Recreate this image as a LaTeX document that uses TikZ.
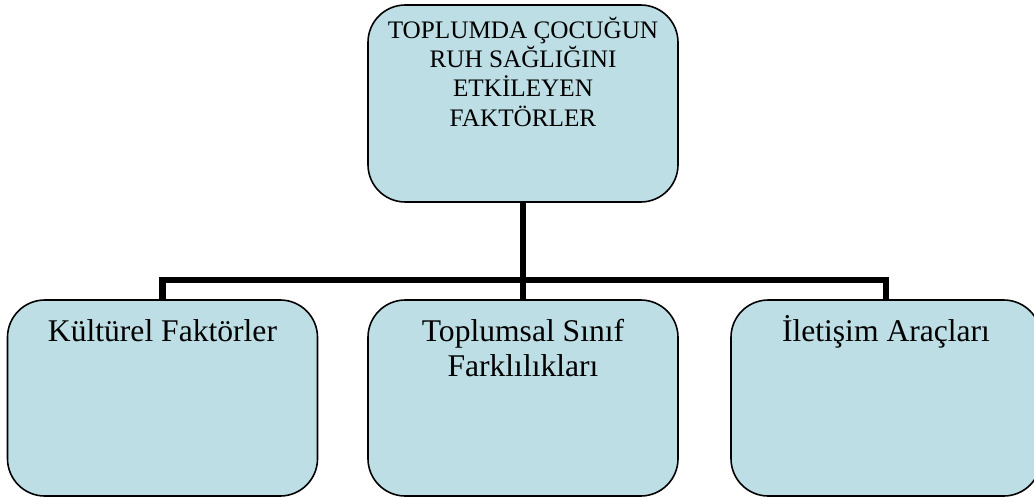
\documentclass[tikz,border=0pt]{standalone}
\usepackage{fontspec}
\setmainfont{Liberation Serif}
\definecolor{boxfill}{RGB}{188,222,228}
\newcommand{\boxtxt}[4]{\begin{minipage}[c][#1][t]{#2}\centering\rule{0pt}{#3}#4\end{minipage}}
\tikzset{
  orgbox/.style={draw=black, line width=1.2pt, fill=boxfill, rounded corners=28pt, inner sep=0pt, minimum width=232.5pt},
  conn/.style={draw=black, line width=4.6pt, line join=miter}
}
\begin{document}
\begin{tikzpicture}[x=0.75pt, y=-0.75pt]
\useasboundingbox (0,0) rectangle (1034,496);
\clip (0,0) rectangle (1034,496);
\node[orgbox, minimum height=147.75pt] (top) at (523,103.5)
  {\boxtxt{147.75pt}{232.5pt}{24.75pt}{\fontsize{18.9pt}{22.1pt}\selectfont TOPLUMDA ÇOCUĞUN\\ RUH SAĞLIĞINI\\ ETKİLEYEN\\ FAKTÖRLER}};
\node[orgbox, minimum height=147pt] (left) at (162.5,398)
  {\boxtxt{147pt}{232.5pt}{31pt}{\fontsize{23.7pt}{26.5pt}\selectfont Kültürel Faktörler}};
\node[orgbox, minimum height=147pt] (mid) at (523,398)
  {\boxtxt{147pt}{232.5pt}{31pt}{\fontsize{23.7pt}{26.5pt}\selectfont Toplumsal Sınıf\\ Farklılıkları}};
\node[orgbox, minimum height=147pt] (right) at (886,398)
  {\boxtxt{147pt}{232.5pt}{31pt}{\fontsize{23.7pt}{26.5pt}\selectfont İletişim Araçları}};
\coordinate (bus) at (523,280);
\draw[conn] (top.south) -- (mid.north);
\draw[conn] (left.north) |- (bus) -| (right.north);
\end{tikzpicture}
\end{document}
